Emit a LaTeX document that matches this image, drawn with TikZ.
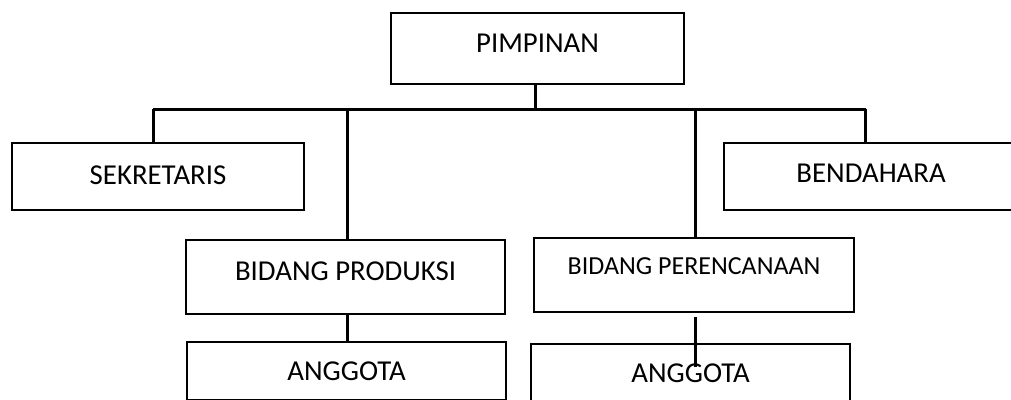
\documentclass[tikz,border=0pt]{standalone}
\usepackage{fontspec}
\setmainfont{Carlito}

\begin{document}
\begin{tikzpicture}[
  box/.style={draw, line width=1.5pt, anchor=north west, inner sep=0pt,
    font=\fontsize{20.5}{24}\selectfont, text height=0.465cm},
  link/.style={line width=2.2pt}]
\useasboundingbox (0,0) rectangle (25.275,-10);
\clip (0,0) rectangle (25.275,-10);
% boxes
\node[box, minimum width=7.325cm, minimum height=1.775cm, text depth=0.275cm] (pimpinan) at (9.75,-0.3) {PIMPINAN};
\node[box, minimum width=7.3cm, minimum height=1.675cm, text depth=0.075cm] (sekretaris) at (0.275,-3.55) {SEKRETARIS};
\node[box, minimum width=7.6cm, minimum height=1.675cm, text depth=0.175cm] (bendahara) at (18.075,-3.55) {BENDAHARA\rule{0.25cm}{0pt}};
\node[box, minimum width=7.975cm, minimum height=1.85cm, text depth=0.3cm] (produksi) at (4.625,-5.975) {BIDANG PRODUKSI};
\node[box, minimum width=8cm, minimum height=1.85cm, text depth=0.45cm, text height=0.42cm,
  font=\fontsize{18.5}{22}\selectfont] (perencanaan) at (13.325,-5.925) {BIDANG PERENCANAAN};
\node[box, minimum width=7.975cm, minimum height=1.45cm, text depth=0cm] (anggota-pr) at (4.65,-8.525) {ANGGOTA};
\node[box, minimum width=7.975cm, minimum height=1.45cm, text depth=0cm] (anggota-pe) at (13.25,-8.575) {ANGGOTA};
% lines
\coordinate (bus) at ([yshift=-0.6cm]pimpinan.south);
\coordinate (pe-end) at ([xshift=0.025cm,yshift=-1.35cm]perencanaan.south);
\draw[link] ([xshift=-0.05cm]pimpinan.south) -- ([xshift=-0.05cm]bus);
\draw[link] ([xshift=-0.125cm]sekretaris.north |- bus) -- ([xshift=-0.26cm]bendahara.north |- bus);
\foreach \n/\dx in {sekretaris/-0.125,produksi/0.04,perencanaan/0.025,bendahara/-0.26}
  \draw[link] ([xshift=\dx cm]\n.north |- bus) -- ([xshift=\dx cm]\n.north);
\draw[link] ([xshift=0.04cm]produksi.south) -- ([xshift=0.04cm]produksi.south |- anggota-pr.north);
\draw[link] ([xshift=0.025cm,yshift=-0.1cm]perencanaan.south) -- (pe-end);
\end{tikzpicture}
\end{document}
